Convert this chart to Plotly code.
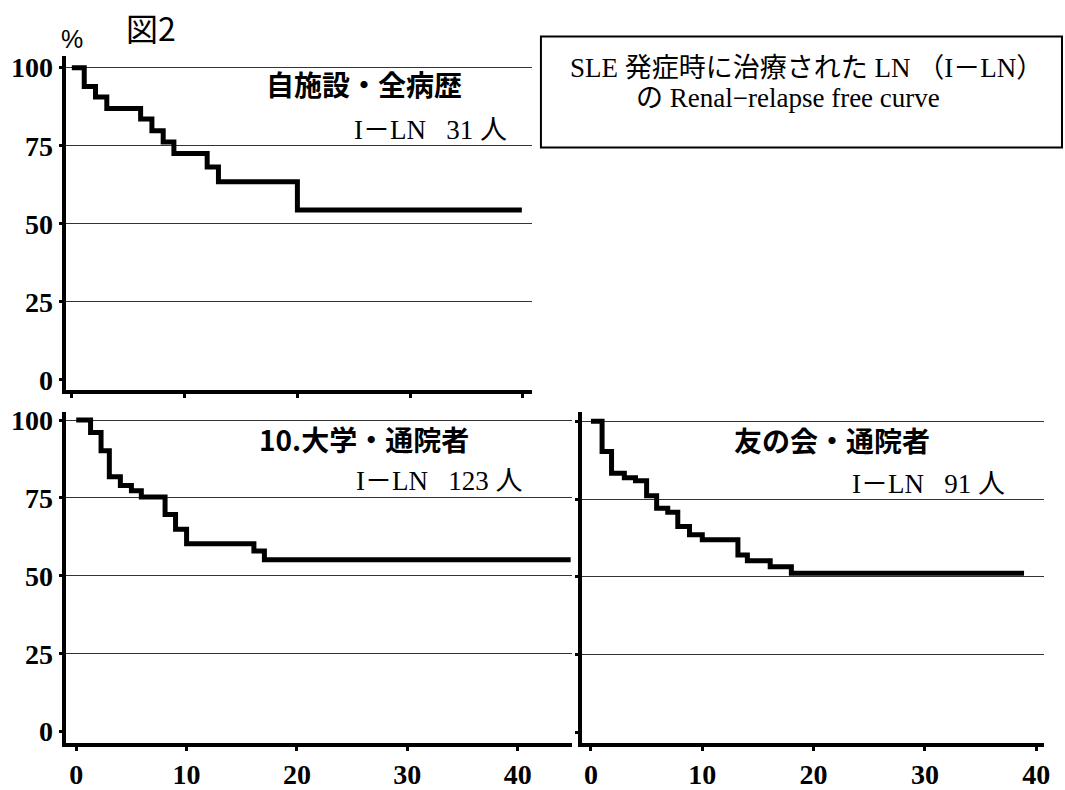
import plotly.graph_objects as go

W, H = 1065, 790

# ---- data ----
t_own = [0, 1.1, 2.1, 3.1, 6.1, 7.1, 8.1, 9.05, 12.0, 13.0, 20.0, 39.9]
s_own = [100, 94.0, 90.6, 86.9, 83.6, 79.8, 76.2, 72.5, 68.2, 63.5, 54.4, 54.4]

t_univ = [0, 1.3, 2.25, 3.0, 4.0, 5.0, 5.9, 8.05, 9.0, 10.0, 16.1, 17.05, 44.8]
s_univ = [100, 96.0, 90.2, 81.8, 79.0, 77.3, 75.3, 69.7, 65.0, 60.3, 58.0, 55.2, 55.2]

t_club = [0, 1.0, 1.85, 3.0, 4.0, 5.0, 5.9, 6.9, 7.8, 8.85, 10.0, 13.2, 14.05, 16.1, 18.0, 38.9]
s_club = [100, 90.3, 83.3, 81.9, 80.9, 76.1, 72.1, 70.8, 66.2, 63.6, 62.0, 57.1, 55.2, 53.3, 51.2, 51.2]

y_ticks = [0, 25, 50, 75, 100]
grid_vals = [25, 50, 75, 100]
x_ticks = [0, 10, 20, 30, 40]

titles = ["自施設・全病歴", "10.大学・通院者", "友の会・通院者"]
counts = ["I－LN\u2002 31 人", "I－LN\u2002 123 人", "I－LN\u2002 91 人"]
box_lines = ["SLE 発症時に治療された LN （I－LN）", "の Renal−relapse free curve"]


def px(x):
    return x / W


def py(y):
    return 1 - y / H


NUM_FONT = dict(family="Liberation Serif, DejaVu Serif, serif", size=28, color="black",
                weight="bold")
SERIF_CJK = "Liberation Serif, Noto Sans CJK JP, serif"
SANS_CJK = "Noto Sans CJK JP, sans-serif"

fig = go.Figure()

panels = [
    # (t, s, x domain px, y domain px, x range, y range, show x labels, show y labels)
    (t_own, s_own, (66, 535), (50, 390), (-0.55, 40.8), (-3.24, 103.7), False, True),
    (t_univ, s_univ, (66, 575), (412, 749), (-0.96, 44.9), (-3.56, 102.7), True, True),
    (t_club, s_club, (585, 1050), (412, 749), (-0.83, 40.7), (-3.25, 103.1), True, False),
]

for i, (t, s, xd, yd, xr, yr, sxl, syl) in enumerate(panels):
    n = i + 1
    xa = "x" if n == 1 else f"x{n}"
    ya = "y" if n == 1 else f"y{n}"
    fig.add_trace(go.Scatter(
        x=t, y=s, mode="lines", line=dict(shape="hv", color="black", width=5),
        xaxis=xa, yaxis=ya, showlegend=False, hoverinfo="skip",
    ))
    xkey = "xaxis" if n == 1 else f"xaxis{n}"
    ykey = "yaxis" if n == 1 else f"yaxis{n}"
    fig.layout[xkey] = dict(
        domain=[px(xd[0]), px(xd[1])], range=list(xr), anchor=ya,
        tickvals=x_ticks, ticktext=[str(v) for v in x_ticks],
        showticklabels=sxl, ticks="outside", ticklen=4, tickwidth=3, tickcolor="black",
        showline=True, linewidth=4, linecolor="black", showgrid=False, zeroline=False,
        tickfont=NUM_FONT, fixedrange=True, ticklabelstandoff=0,
    )
    fig.layout[ykey] = dict(
        domain=[py(yd[1]), py(yd[0])], range=list(yr), anchor=xa,
        tickvals=y_ticks, ticktext=[str(v) for v in y_ticks],
        showticklabels=syl, ticks="outside", ticklen=3, tickwidth=3, tickcolor="black",
        showline=True, linewidth=4, linecolor="black", showgrid=False, zeroline=False,
        tickfont=NUM_FONT, fixedrange=True, ticklabelstandoff=0,
    )
    # overlay axis used only for the horizontal grid lines (no grid line at 0)
    gkey = f"yaxis{n + 3}"
    fig.layout[gkey] = dict(
        overlaying=ya, anchor=xa, range=list(yr), tickvals=grid_vals,
        showgrid=True, gridcolor="#333333", gridwidth=1,
        showticklabels=False, ticks="", showline=False, zeroline=False, fixedrange=True,
    )
    fig.add_trace(go.Scatter(x=[None], y=[None], xaxis=xa, yaxis=f"y{n + 3}",
                             showlegend=False, hoverinfo="skip"))

# panel texts
title_pos = [(366, 78), (366, 440), (837, 441)]
count_pos = [(512, 125), (527, 483), (1013, 486)]
for (tx, ty), txt in zip(title_pos, titles):
    fig.add_annotation(x=px(tx), y=py(ty), xref="paper", yref="paper", text=txt,
                       showarrow=False, xanchor="center", yanchor="middle",
                       font=dict(family=SANS_CJK, size=28, color="black", weight="bold"))
for (tx, ty), txt in zip(count_pos, counts):
    fig.add_annotation(x=px(tx), y=py(ty), xref="paper", yref="paper", text=txt,
                       showarrow=False, xanchor="right", yanchor="middle",
                       font=dict(family=SERIF_CJK, size=27, color="black"))

# figure label and unit
fig.add_annotation(x=px(152), y=py(20), xref="paper", yref="paper", text="図2",
                   showarrow=False, xanchor="center", yanchor="middle",
                   font=dict(family=SANS_CJK, size=32, color="black"))
fig.add_annotation(x=px(72), y=py(33), xref="paper", yref="paper", text="%",
                   showarrow=False, xanchor="center", yanchor="middle",
                   font=dict(family="Liberation Sans, sans-serif", size=25, color="black"))

# boxed caption
fig.add_shape(type="rect", xref="paper", yref="paper",
              x0=px(544), x1=px(1068), y0=py(143), y1=py(30),
              line=dict(color="black", width=2), fillcolor="rgba(0,0,0,0)")
fig.add_annotation(x=px(811), y=py(62), xref="paper", yref="paper", text=box_lines[0],
                   showarrow=False, xanchor="center", yanchor="middle",
                   font=dict(family=SERIF_CJK, size=27, color="black"))
fig.add_annotation(x=px(638), y=py(93), xref="paper", yref="paper", text=box_lines[1],
                   showarrow=False, xanchor="left", yanchor="middle",
                   font=dict(family=SERIF_CJK, size=27, color="black"))

fig.update_layout(
    width=W, height=H, margin=dict(l=0, r=0, t=0, b=0),
    paper_bgcolor="white", plot_bgcolor="white", showlegend=False,
)

fig.write_html("out.html")
